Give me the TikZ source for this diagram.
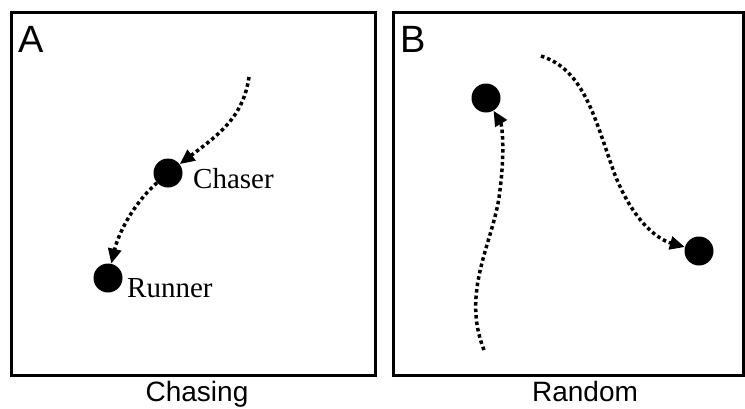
\documentclass[tikz,border=0pt]{standalone}
\usepackage{fontspec}
\setmainfont{Liberation Serif}
\setsansfont{Liberation Sans}
\usetikzlibrary{arrows.meta}
\begin{document}
\begin{tikzpicture}[x=1pt,y=-1pt,
  panel/.style={draw=black,line width=3pt},
  agent/.style={circle,fill=black,inner sep=0pt,minimum size=29pt},
  trail/.style={line width=3.5pt,dash pattern=on 3.5pt off 3pt,-{Triangle[length=15pt,width=13pt]}},
  letter/.style={font=\sffamily\fontsize{38}{38}\selectfont,anchor=base west,inner sep=0pt},
  caption/.style={font=\sffamily\fontsize{28}{28}\selectfont,anchor=base,inner sep=0pt},
  tag/.style={font=\fontsize{29}{29}\selectfont,anchor=base west,inner sep=0pt}]
\useasboundingbox (0,0) rectangle (745,408);
% panels
\draw[panel] (11,12) rectangle (375,375);
\draw[panel] (393,12) rectangle (743,375);
\node[letter] (la) at (18,52) {A};
\node[letter] (lb) at (400,52) {B};
\node[caption] (ca) at (197,401) {Chasing};
\node[caption] (cb) at (585,401) {Random};
% panel A
\node[agent] (chaser) at (168,173) {};
\node[agent] (runner) at (108,278) {};
\node[tag] (tchaser) at (193,188) {Chaser};
\node[tag] (trunner) at (127,297) {Runner};
\coordinate (a0) at (249,77);
\draw[trail] (a0) .. controls (243,118) and (218,135) .. (chaser);
\draw[trail] (chaser) .. controls (132,205) and (118,235) .. (runner);
% panel B
\node[agent] (b1) at (486,98) {};
\node[agent] (b2) at (699,251) {};
\coordinate (b1s) at (484,350);
\coordinate (b2s) at (541,56);
\draw[trail] (b1s) .. controls (460,290) and (495,240) .. (500,190) .. controls (505,150) and (502,125) .. (b1);
\draw[trail] (b2s) .. controls (585,70) and (595,120) .. (615,175) .. controls (635,225) and (660,240) .. (b2);
\end{tikzpicture}
\end{document}
